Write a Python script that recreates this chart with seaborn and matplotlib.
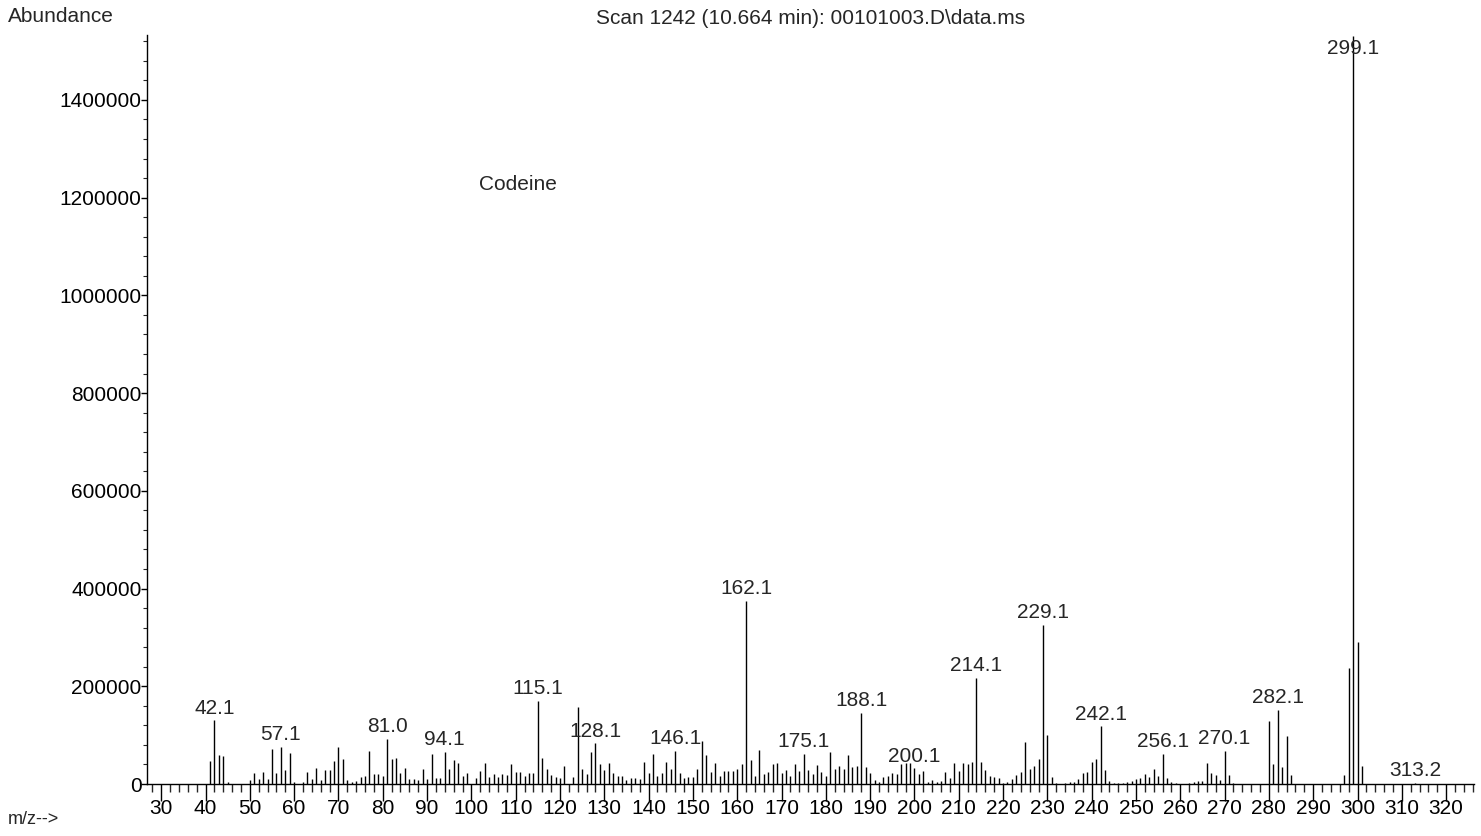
import numpy as np
import pandas as pd
import matplotlib.pyplot as plt
from matplotlib.ticker import MultipleLocator, FuncFormatter
import seaborn as sns

sns.set_theme(style="white")
plt.rcParams['font.family'] = ['Liberation Sans', 'DejaVu Sans']

# Espectro de masas
mz = [41, 42, 43, 44, 45, 50, 51, 52, 53, 54, 55, 56, 57, 58, 59, 60, 62, 63, 64, 65,
      66, 67, 68, 69, 70, 71, 72, 73, 74, 75, 76, 77, 78, 79, 80, 81, 82, 83, 84, 85,
      86, 87, 88, 89, 90, 91, 92, 93, 94, 95, 96, 97, 98, 99, 101, 102, 103, 104, 105, 106,
      107, 108, 109, 110, 111, 112, 113, 114, 115, 116, 117, 118, 119, 120, 121, 123, 124, 125, 126, 127,
      128, 129, 130, 131, 132, 133, 134, 135, 136, 137, 138, 139, 140, 141, 142, 143, 144, 145, 146, 147,
      148, 149, 150, 151, 152, 153, 154, 155, 156, 157, 158, 159, 160, 161, 162, 163, 164, 165, 166, 167,
      168, 169, 170, 171, 172, 173, 174, 175, 176, 177, 178, 179, 180, 181, 182, 183, 184, 185, 186, 187,
      188, 189, 190, 191, 192, 193, 194, 195, 196, 197, 198, 199, 200, 201, 202, 203, 204, 205, 206, 207,
      208, 209, 210, 211, 212, 213, 214, 215, 216, 217, 218, 219, 220, 221, 222, 223, 224, 225, 226, 227,
      228, 229, 230, 231, 232, 233, 234, 235, 236, 237, 238, 239, 240, 241, 242, 243, 244, 245, 246, 247,
      248, 249, 250, 251, 252, 253, 254, 255, 256, 257, 258, 259, 262, 263, 264, 265, 266, 267, 268, 269,
      270, 271, 272, 280, 281, 282, 283, 284, 285, 297, 298, 299, 300, 301, 313]
abundance = [47000, 130000, 59000, 58000, 3400, 8000, 22000, 10000, 25000, 9500, 71000, 22000, 76000, 29000, 63000, 3400, 4000, 25000, 9500, 32000,
             8000, 28000, 28000, 48000, 76000, 51000, 8000, 5000, 6000, 14000, 16000, 67000, 20000, 20000, 16000, 93000, 51000, 53000, 22000, 33000,
             9500, 9500, 8000, 30000, 11000, 61000, 13000, 12000, 66000, 31000, 50000, 42000, 17000, 23000, 12000, 27000, 42000, 14000, 20000, 15000,
             20000, 19000, 40000, 24000, 24000, 17000, 22000, 22000, 170000, 54000, 30000, 18000, 14000, 12000, 37000, 15000, 158000, 31000, 20000, 65000,
             83000, 40000, 28000, 42000, 22000, 17000, 17000, 9000, 12000, 12000, 10000, 46000, 22000, 62000, 16000, 23000, 46000, 30000, 67000, 22000,
             13000, 14000, 14000, 30000, 89000, 59000, 25000, 44000, 16000, 26000, 27000, 27000, 31000, 40000, 374000, 50000, 16000, 69000, 20000, 24000,
             40000, 44000, 22000, 29000, 16000, 40000, 27000, 62000, 29000, 20000, 39000, 25000, 16000, 65000, 31000, 37000, 31000, 59000, 34000, 37000,
             146000, 35000, 22000, 9000, 5000, 14000, 16000, 22000, 21000, 40000, 43000, 43000, 32000, 20000, 26000, 4000, 9000, 5000, 7000, 24000,
             12000, 42000, 27000, 42000, 41000, 46000, 217000, 46000, 28000, 16000, 14000, 13000, 2000, 4000, 10000, 18000, 24000, 85000, 31000, 36000,
             52000, 325000, 100000, 14000, 1500, 1000, 3000, 5000, 5000, 10000, 22000, 25000, 46000, 52000, 118000, 28000, 7000, 2000, 1500, 3000,
             3400, 5400, 10000, 12000, 20000, 14000, 31000, 17000, 62000, 13000, 4000, 1500, 3000, 3400, 5400, 5400, 43000, 22000, 19000, 7500,
             68000, 19000, 2000, 128000, 40000, 152000, 34000, 98000, 18000, 19000, 237000, 1530000, 290000, 37000, 3000]

peak_mz = [42, 57, 81, 94, 115, 128, 146, 162, 175, 188, 200, 214, 229, 242, 256, 270, 282, 299, 313]
peak_labels = ['42.1', '57.1', '81.0', '94.1', '115.1', '128.1', '146.1', '162.1', '175.1', '188.1',
               '200.1', '214.1', '229.1', '242.1', '256.1', '270.1', '282.1', '299.1', '313.2']

titulo = r'Scan 1242 (10.664 min): 00101003.D\data.ms'

df = pd.DataFrame({'mz': mz, 'abundance': abundance})
y_max = 1533000

fig = plt.figure(figsize=(14.81, 8.36), dpi=100)
ax = fig.add_axes([0.0993, 0.0622, 0.896, 0.896])

ax.vlines(df['mz'], 0, df['abundance'].clip(upper=y_max), color='black', linewidth=1.0)

lookup = dict(zip(mz, abundance))
for m, lab in zip(peak_mz, peak_labels):
    v = lookup[m]
    if v >= y_max * 0.97:
        ax.text(m, y_max * 0.995, lab, ha='center', va='top', fontsize=15)
    else:
        ax.annotate(lab, (m, v), xytext=(0, 2), textcoords='offset points',
                    ha='center', va='bottom', fontsize=15)

ax.text(101.8, 1226000, 'Codeine', ha='left', va='center', fontsize=15)

ax.set_xlim(26.8, 326.3)
ax.set_ylim(0, y_max)
ax.xaxis.set_major_locator(MultipleLocator(10))
ax.xaxis.set_minor_locator(MultipleLocator(2))
ax.yaxis.set_major_locator(MultipleLocator(200000))
ax.yaxis.set_minor_locator(MultipleLocator(40000))
ax.yaxis.set_major_formatter(FuncFormatter(lambda v, p: f'{int(v)}'))

sns.despine(ax=ax, top=True, right=True)
for s in ['left', 'bottom']:
    ax.spines[s].set_color('black')
    ax.spines[s].set_linewidth(1.0)

ax.tick_params(axis='x', which='major', direction='out', length=12, width=1, pad=-1,
               labelsize=15, colors='black', bottom=True)
ax.tick_params(axis='x', which='minor', direction='out', length=6, width=1, bottom=True)
ax.tick_params(axis='y', which='major', direction='out', length=4, width=1, pad=0,
               labelsize=15, colors='black', left=True)
ax.tick_params(axis='y', which='minor', direction='out', length=3, width=0.8, left=True)
ax.grid(False)

ax.set_title(titulo, fontsize=15, pad=8, loc='center')
fig.text(8 / 1481, 1 - 17 / 836, 'Abundance', ha='left', va='center', fontsize=15)
fig.text(8 / 1481, 1 - 820 / 836, 'm/z-->', ha='left', va='center', fontsize=13)

fig.savefig('out.png', dpi=100, facecolor='white')
